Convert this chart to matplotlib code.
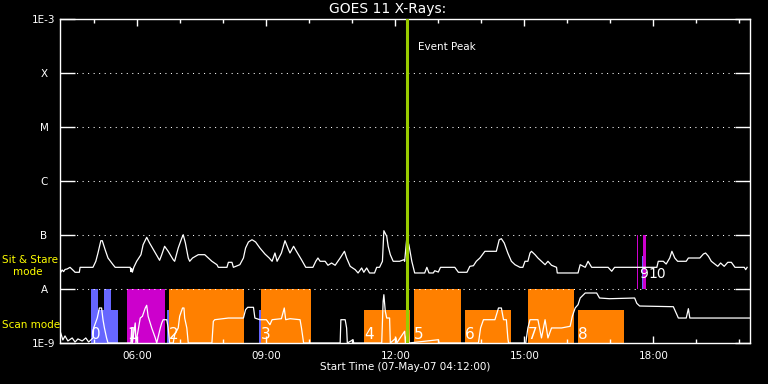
import matplotlib
matplotlib.use("Agg")
import matplotlib.pyplot as plt
from matplotlib.ticker import FixedLocator, MultipleLocator, NullLocator, FuncFormatter

# GOES 11 long channel (1-8 A), flux in units of 1e-8 W/m^2
hi_times = ["04:13", "04:15", "04:17", "04:19", "04:22", "04:26", "04:31", "04:33", "04:39", "04:40",
            "04:58", "05:02", "05:05", "05:09", "05:11", "05:15", "05:19", "05:26", "05:29", "05:50",
            "05:51", "05:52", "05:53", "05:55", "05:59", "06:05", "06:08", "06:13", "06:17", "06:25",
            "06:31", "06:34", "06:38", "06:43", "06:50", "06:52", "06:57", "07:02", "07:04", "07:07",
            "07:11", "07:13", "07:17", "07:25", "07:34", "07:39", "07:44", "07:51", "07:53", "08:05",
            "08:07", "08:12", "08:14", "08:23", "08:28", "08:31", "08:35", "08:40", "08:45", "08:51",
            "08:58", "09:04", "09:08", "09:12", "09:15", "09:21", "09:26", "09:31", "09:33", "09:38",
            "09:42", "09:49", "09:55", "10:05", "10:09", "10:12", "10:15", "10:22", "10:26", "10:31",
            "10:36", "10:43", "10:49", "10:52", "10:57", "11:04", "11:08", "11:13", "11:16", "11:20",
            "11:24", "11:31", "11:34", "11:38", "11:42", "11:44", "11:48", "11:50", "11:53", "11:57",
            "12:06", "12:12", "12:13", "12:16", "12:19", "12:23", "12:27", "12:41", "12:44", "12:47",
            "12:53", "12:55", "13:00", "13:03", "13:23", "13:28", "13:40", "13:44", "13:49", "13:53",
            "13:58", "14:05", "14:21", "14:25", "14:28", "14:32", "14:37", "14:42", "14:47", "14:54",
            "14:58", "15:01", "15:05", "15:08", "15:10", "15:15", "15:19", "15:24", "15:29", "15:33",
            "15:38", "15:45", "15:46", "16:15", "16:18", "16:25", "16:29", "16:34", "16:57", "17:02",
            "17:06", "17:34", "18:05", "18:07", "18:14", "18:18", "18:23", "18:26", "18:30", "18:34",
            "18:46", "18:49", "19:05", "19:10", "19:13", "19:17", "19:21", "19:26", "19:30", "19:34",
            "19:39", "19:44", "19:49", "19:54", "20:07", "20:09", "20:11"]
hi_flux = [2.04, 2.25, 2.10, 2.30, 2.35, 2.52, 2.18, 2.04, 2.04, 2.52,
           2.52, 3.26, 4.64, 7.84, 7.84, 5.34, 3.75, 2.82, 2.52, 2.52,
           2.10, 2.40, 2.05, 2.52, 3.26, 4.32, 6.61, 9.06, 7.11, 4.64,
           3.40, 4.32, 6.18, 4.99, 3.49, 3.26, 5.74, 8.80, 10.1, 7.11,
           3.75, 3.26, 3.75, 4.32, 4.32, 3.75, 3.26, 2.82, 2.52, 2.52,
           3.12, 3.12, 2.52, 2.82, 3.75, 5.74, 7.42, 8.18, 7.42, 5.74,
           4.45, 3.75, 3.26, 4.64, 3.26, 4.64, 7.84, 5.34, 4.64, 6.18,
           4.99, 3.49, 2.52, 2.52, 3.26, 3.75, 3.26, 3.26, 2.75, 3.03,
           2.75, 3.75, 4.99, 3.75, 2.63, 2.28, 1.98, 2.45, 2.04, 2.45,
           1.98, 1.98, 2.52, 2.52, 3.26, 12.0, 9.46, 6.18, 4.32, 3.26,
           3.26, 3.49, 3.26, 8.80, 6.53, 3.26, 1.98, 1.98, 2.52, 1.98,
           1.98, 2.18, 2.06, 2.52, 2.52, 2.04, 2.04, 2.63, 2.70, 3.26,
           3.75, 4.99, 4.99, 8.18, 8.54, 7.11, 4.64, 3.26, 2.82, 2.52,
           2.52, 3.26, 3.26, 4.64, 4.99, 4.32, 3.75, 3.26, 2.82, 3.26,
           2.75, 2.52, 1.98, 1.98, 2.82, 2.52, 3.26, 2.52, 2.52, 2.13,
           2.52, 2.52, 2.52, 3.26, 3.26, 2.90, 3.75, 4.99, 3.75, 3.26,
           3.26, 3.75, 3.75, 4.45, 4.64, 4.03, 3.26, 2.90, 2.63, 3.03,
           2.63, 3.12, 3.12, 2.52, 2.52, 2.28, 2.52]

# GOES 11 short channel (0.5-4 A), flux in units of 1e-9 W/m^2
lo_times = ["04:13", "04:16", "04:19", "04:23", "04:29", "04:33", "04:37", "04:43", "04:48", "04:52",
            "04:58", "04:59", "05:04", "05:07", "05:10", "05:12", "05:14", "05:17", "05:19", "05:51",
            "05:52", "05:53", "05:57", "05:58", "06:04", "06:07", "06:11", "06:13", "06:15", "06:20",
            "06:25", "06:27", "06:32", "06:34", "06:36", "06:41", "06:43", "06:45", "06:50", "06:52",
            "06:57", "06:59", "07:03", "07:05", "07:06", "07:09", "07:11", "07:44", "07:46", "07:48",
            "08:07", "08:28", "08:31", "08:34", "08:42", "08:44", "08:51", "09:00", "09:05", "09:08",
            "09:21", "09:25", "09:27", "09:33", "09:47", "09:49", "09:52", "10:43", "10:44", "10:50",
            "10:52", "10:53", "11:01", "11:02", "11:41", "11:43", "11:44", "11:46", "11:48", "11:52",
            "11:53", "12:01", "12:02", "12:13", "12:14", "12:18", "12:19", "13:00", "13:01", "13:56",
            "13:59", "14:03", "14:19", "14:24", "14:28", "14:31", "14:35", "14:37", "14:38", "15:02",
            "15:05", "15:08", "15:19", "15:24", "15:29", "15:33", "15:38", "15:52", "16:04", "16:07",
            "16:11", "16:15", "16:18", "16:25", "16:41", "16:45", "16:59", "17:34", "17:37", "17:41",
            "18:28", "18:33", "18:35", "18:46", "18:49", "18:51", "20:15"]
lo_flux = [1.53, 1.14, 1.35, 1.09, 1.24, 1.04, 1.19, 1.09, 1.24, 1.04,
           1.24, 1.90, 2.90, 4.45, 4.45, 2.70, 1.90, 1.24, 1.00, 1.00,
           1.90, 1.00, 2.35, 1.00, 2.90, 3.12, 4.45, 4.99, 3.12, 1.90,
           1.24, 1.00, 1.90, 2.35, 2.70, 2.70, 1.90, 1.00, 1.00, 1.42,
           1.90, 3.12, 4.45, 4.45, 2.90, 1.90, 1.00, 1.00, 2.52, 2.70,
           2.90, 2.90, 4.14, 4.58, 4.58, 2.90, 2.70, 2.70, 2.18, 2.70,
           2.82, 4.45, 2.70, 2.82, 2.70, 1.90, 1.00, 1.00, 2.70, 2.70,
           1.90, 1.00, 1.15, 1.00, 1.00, 5.92, 7.84, 3.86, 2.90, 2.90,
           1.00, 1.24, 1.00, 1.65, 1.00, 2.20, 1.00, 1.15, 1.00, 1.00,
           1.90, 2.70, 2.70, 4.45, 4.45, 2.70, 2.70, 1.24, 1.00, 1.00,
           1.90, 2.70, 2.70, 1.24, 2.70, 1.24, 1.90, 1.90, 2.04, 3.12,
           4.45, 5.12, 6.81, 8.43, 8.43, 6.81, 6.61, 6.81, 5.43, 4.84,
           4.70, 3.34, 2.90, 2.90, 4.32, 2.90, 2.90]

# EIS rasters: start, end, lower / upper flux level (W/m^2), kind
ras_start = ["04:55", "05:05", "05:14", "05:23", "05:46", "06:41", "06:44", "08:50", "08:52",
             "11:16", "12:26", "13:37", "15:05", "16:15", "17:37", "17:44", "17:46"]
ras_end = ["05:05", "05:14", "05:23", "05:33", "06:38", "06:44", "08:29", "08:52", "10:02",
           "12:20", "13:31", "14:41", "16:09", "17:19", "17:38", "17:46", "17:50"]
ras_low = [1e-9] * 14 + [1e-8, 1e-8, 1e-8]
ras_high = [1e-8, 4.1e-9, 1e-8, 4.1e-9, 1e-8, 4.1e-9, 1e-8, 4.1e-9, 1e-8,
            4.1e-9, 1e-8, 4.1e-9, 1e-8, 4.1e-9, 1e-7, 4.1e-8, 1e-7]
ras_kind = ["blue", "blue", "blue", "blue", "magenta", "blue", "orange", "blue", "orange",
            "orange", "orange", "orange", "orange", "orange", "magenta", "blue", "magenta"]

scan_labels = ["0", "1", "2", "3", "4", "5", "6", "7", "8"]
scan_label_times = ["04:55", "05:46", "06:44", "08:52", "11:16", "12:26", "13:37", "15:05", "16:15"]
stare_labels = ["9", "10"]
stare_label_times = ["17:40", "17:53"]

event_peak = "12:16"

yticks = [1e-3, 1e-4, 1e-5, 1e-6, 1e-7, 1e-8, 1e-9]
ylabels = ["1E-3", "X", "M", "C", "B", "A", "1E-9"]
start_time = "04:12"
end_time = "20:15"

colors = {"blue": "#6666ff", "magenta": "#cc00cc", "orange": "#ff8000"}


def hours(t):
    h, m = t.split(":")
    return int(h) + int(m) / 60


fig = plt.figure(figsize=(7.68, 3.84), dpi=100, facecolor="black")
ax = fig.add_axes([60 / 768, 41 / 384, 690 / 768, 324 / 384], facecolor="black")
ax.set_yscale("log")
ax.set_ylim(1e-9, 1e-3)
ax.set_xlim(hours(start_time), hours(end_time))

# rasters
xs = [hours(t) for t in ras_start]
ws = [hours(e) - hours(s) for s, e in zip(ras_start, ras_end)]
hs = [hi - lo for lo, hi in zip(ras_low, ras_high)]
ax.bar(xs, hs, width=ws, bottom=ras_low, align="edge",
       color=[colors[k] for k in ras_kind], linewidth=0, zorder=1)

# grid lines at the flare classes
for y in yticks[1:-1]:
    ax.axhline(y, color="white", lw=0.75, ls=(0, (1, 4.3)), zorder=2)

ax.plot([hours(t) for t in hi_times], [f * 1e-8 for f in hi_flux], color="white", lw=0.9, zorder=3)
ax.plot([hours(t) for t in lo_times], [f * 1e-9 for f in lo_flux], color="white", lw=0.9, zorder=3)

for lab, t in zip(scan_labels, scan_label_times):
    ax.text(hours(t), 1.19e-9, lab, color="white", fontsize=11, ha="left", va="baseline", zorder=4)
for lab, t in zip(stare_labels, stare_label_times):
    ax.text(hours(t), 1.6e-8, lab, color="white", fontsize=10, ha="left", va="baseline", zorder=4)

ax.axvline(hours(event_peak), color="#99cc00", lw=2.2, zorder=5)
ax.text(hours(event_peak) + 0.25, 3.0e-4, "Event Peak", color="white", fontsize=7.5,
        ha="left", va="center")

# axes styling
for sp in ax.spines.values():
    sp.set_color("white")
    sp.set_linewidth(1.0)
ax.xaxis.set_major_locator(MultipleLocator(3))
ax.xaxis.set_minor_locator(MultipleLocator(1))
ax.xaxis.set_major_formatter(FuncFormatter(lambda v, p: f"{int(round(v)):02d}:00"))
ax.yaxis.set_major_locator(FixedLocator(yticks))
ax.yaxis.set_minor_locator(NullLocator())
ax.set_yticklabels(ylabels)
ax.tick_params(axis="x", which="major", direction="in", top=True, bottom=True,
               length=5, width=1, colors="white", labelsize=7.5, pad=6)
ax.tick_params(axis="x", which="minor", direction="in", top=True, bottom=True,
               length=3, width=1, colors="white")
ax.tick_params(axis="y", which="major", direction="in", left=True, right=True,
               length=10.5, width=1, colors="white", labelsize=7.5, pad=11.5)
for lbl in ax.get_yticklabels():
    lbl.set_horizontalalignment("center")

fig.text(388 / 768, 1 - 9 / 384, "GOES 11 X-Rays:", color="white", fontsize=10,
         ha="center", va="center")
fig.text(405 / 768, 1 - 367 / 384, "Start Time (07-May-07 04:12:00)", color="white",
         fontsize=7.5, ha="center", va="center")
fig.text(2 / 768, 1 - 263 / 384, "Sit & Stare", color="#ffff00", fontsize=7.5, ha="left", va="baseline")
fig.text(13 / 768, 1 - 275 / 384, "mode", color="#ffff00", fontsize=7.5, ha="left", va="baseline")
fig.text(2 / 768, 1 - 328 / 384, "Scan mode", color="#ffff00", fontsize=7.5, ha="left", va="baseline")

fig.savefig("out.png", dpi=100, facecolor="black")
